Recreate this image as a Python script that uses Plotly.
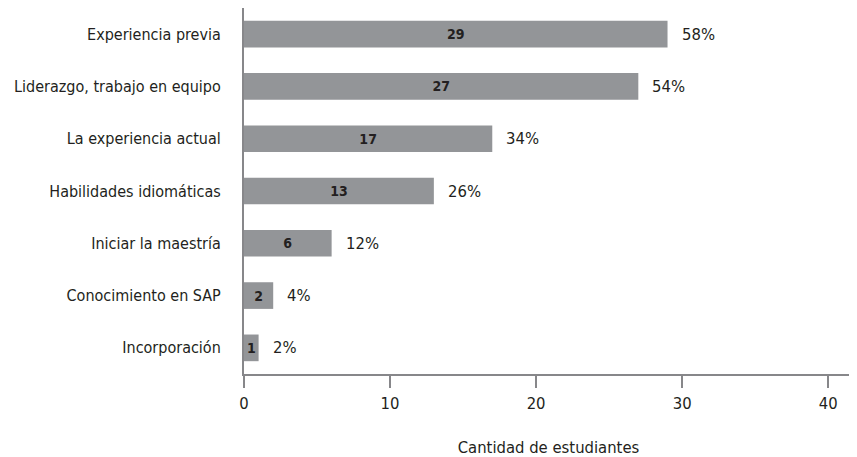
import plotly.graph_objects as go

categories = ["Experiencia previa", "Liderazgo, trabajo en equipo", "La experiencia actual",
              "Habilidades idiomáticas", "Iniciar la maestría", "Conocimiento en SAP", "Incorporación"]
counts = [29, 27, 17, 13, 6, 2, 1]
percents = ["58%", "54%", "34%", "26%", "12%", "4%", "2%"]
x_ticks = [0, 10, 20, 30, 40]

FONT = "DejaVu Sans Condensed, Liberation Sans Narrow, sans-serif"
BAR = "#939598"
AXIS = "#87878a"
TXT = "#231f20"
FS = 16

fig = go.Figure()
fig.add_trace(go.Bar(
    y=categories, x=counts, orientation="h",
    marker=dict(color=BAR, line=dict(width=0)),
    text=[str(c) for c in counts], textposition="inside",
    insidetextanchor="middle", constraintext="none",
    textfont=dict(family=FONT, size=14, color=TXT, weight="bold"),
    hoverinfo="skip",
))

for cat, c, p in zip(categories, counts, percents):
    fig.add_annotation(x=c, y=cat, text=p, showarrow=False, xanchor="left",
                       xshift=12, font=dict(family=FONT, size=16.5, color=TXT))

fig.update_layout(
    width=849, height=449,
    margin=dict(l=236, r=4, t=0, b=83),
    plot_bgcolor="white", paper_bgcolor="white",
    showlegend=False, bargap=0.49,
    font=dict(family=FONT, size=FS, color=TXT),
    uniformtext=dict(minsize=14, mode="show"),
    xaxis=dict(range=[0, 41.7], tickvals=x_ticks, showgrid=False, zeroline=False,
               showline=True, linecolor=AXIS, linewidth=2, automargin=False,
               ticks="outside", ticklen=12, tickwidth=2, tickcolor=AXIS,
               ticklabelstandoff=1,
               title=dict(text="Cantidad de estudiantes", standoff=30,
                          font=dict(family=FONT, size=16.5, color=TXT)),
               tickfont=dict(family=FONT, size=16.5, color=TXT)),
    yaxis=dict(autorange="reversed", showgrid=False, zeroline=False,
               showline=True, linecolor=AXIS, linewidth=2, ticks="",
               ticklabelstandoff=18, automargin=False,
               tickfont=dict(family=FONT, size=FS, color=TXT)),
)

fig.write_html("out.html")
